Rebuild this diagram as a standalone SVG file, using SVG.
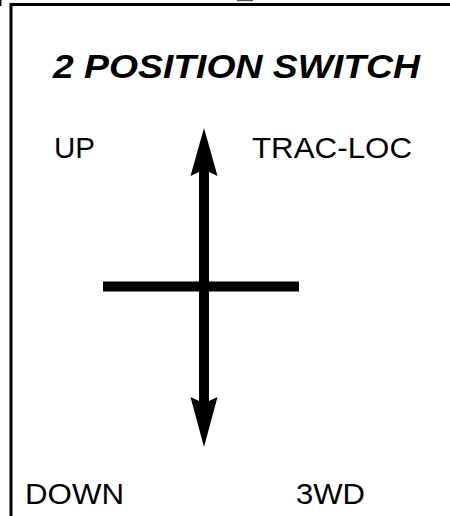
<svg xmlns="http://www.w3.org/2000/svg" width="450" height="516" viewBox="0 0 450 516">
<style>
.lbl{font-family:"Liberation Sans",Arial,sans-serif;font-size:29.5px;fill:#000}
.ttl{font-family:"Liberation Sans",Arial,sans-serif;font-size:34px;font-weight:bold;font-style:italic;fill:#000}
.bar{stroke:#000;stroke-width:10;fill:none}
</style>
<rect width="450" height="516" fill="#fff"/>
<g id="frame">
<path d="M11 516 V4.5 H450" fill="none" stroke="#000" stroke-width="3"/>
<rect x="0" y="0" width="1.5" height="6" fill="#000"/>
<rect x="237" y="0" width="16" height="1.2" fill="#555"/>
</g>
<g id="title"><text class="ttl" x="53" y="78" textLength="367" lengthAdjust="spacingAndGlyphs">2 POSITION SWITCH</text></g>
<g id="up"><text class="lbl" x="54" y="158" textLength="41" lengthAdjust="spacingAndGlyphs">UP</text></g>
<g id="tracloc"><text class="lbl" x="252" y="158" textLength="160" lengthAdjust="spacingAndGlyphs">TRAC-LOC</text></g>
<g id="down"><text class="lbl" x="25" y="504" textLength="99" lengthAdjust="spacingAndGlyphs">DOWN</text></g>
<g id="3wd"><text class="lbl" x="296" y="504" textLength="69" lengthAdjust="spacingAndGlyphs">3WD</text></g>
<g id="connectors">
<line class="bar" x1="103" y1="286.5" x2="299" y2="286.5"/>
<line class="bar" x1="204" y1="170" x2="204" y2="404"/>
<polygon points="204,128 217.5,176 209,172 199,172 190.5,176" fill="#000"/>
<polygon points="204,447 190.5,397 199,401 209,401 217.5,397" fill="#000"/>
</g>
</svg>
